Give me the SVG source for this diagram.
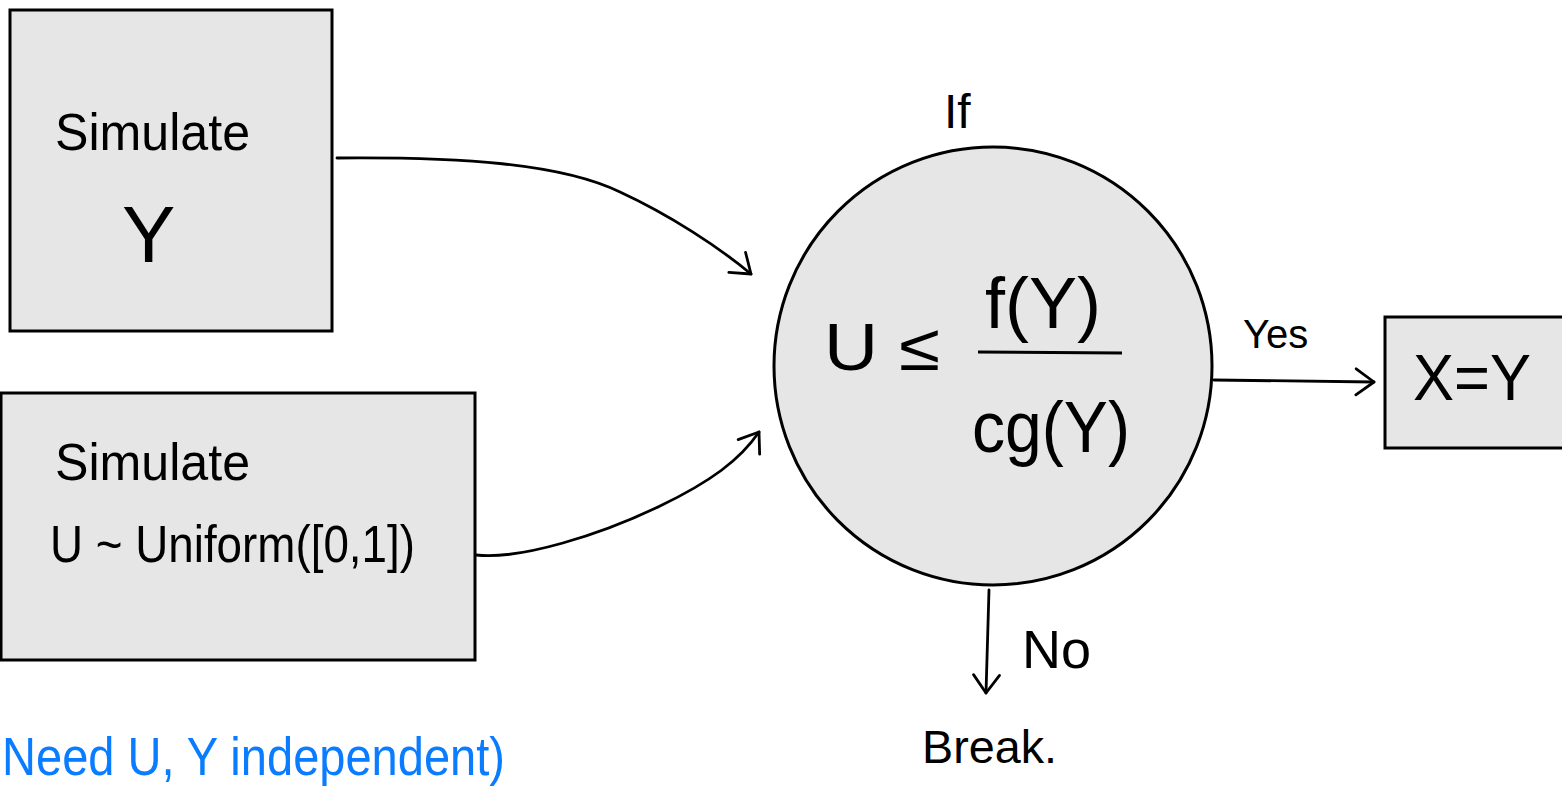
<svg xmlns="http://www.w3.org/2000/svg" width="1562" height="791" viewBox="0 0 1562 791">
<style>
.node{fill:#e6e6e6;stroke:#000;stroke-width:3}
.t{font-family:"Liberation Sans",Arial,sans-serif;fill:#000}
.conn{fill:none;stroke:#000;stroke-width:2.8;stroke-linecap:round}
</style>
<defs>
<marker id="ah" markerWidth="30" markerHeight="30" refX="22" refY="15" orient="auto" markerUnits="userSpaceOnUse">
<path d="M4 2 L22 15 L4 28" fill="none" stroke="#000" stroke-width="2.8" stroke-linecap="round" stroke-linejoin="round"/>
</marker>
</defs>
<rect width="1562" height="791" fill="#fff"/>
<g id="simY">
<rect class="node" x="10" y="10" width="322" height="321"/>
<text class="t" x="55" y="150" font-size="52" textLength="195" lengthAdjust="spacingAndGlyphs">Simulate</text>
<text class="t" x="122" y="262" font-size="80">Y</text>
</g>
<g id="simU">
<rect class="node" x="1" y="393" width="474" height="267"/>
<text class="t" x="55" y="480" font-size="52" textLength="195" lengthAdjust="spacingAndGlyphs">Simulate</text>
<text class="t" x="50" y="562" font-size="52" textLength="365" lengthAdjust="spacingAndGlyphs">U ~ Uniform([0,1])</text>
</g>
<g id="cond">
<circle class="node" cx="993" cy="366" r="219"/>
<text class="t" x="944" y="128" font-size="48">If</text>
<text class="t" x="824" y="370" font-size="66" textLength="116" lengthAdjust="spacingAndGlyphs">U ≤</text>
<line x1="978" y1="352" x2="1122" y2="353" stroke="#000" stroke-width="3"/>
<text class="t" x="985" y="328" font-size="72">f(Y)</text>
<text class="t" x="972" y="452" font-size="72" textLength="158" lengthAdjust="spacingAndGlyphs">cg(Y)</text>
</g>
<g id="result">
<rect class="node" x="1385" y="317" width="190" height="131"/>
<text class="t" x="1413" y="400" font-size="64" textLength="118" lengthAdjust="spacingAndGlyphs">X=Y</text>
</g>
<g id="labels">
<text class="t" x="1243" y="348" font-size="40">Yes</text>
<text class="t" x="1022" y="668" font-size="54">No</text>
<text class="t" x="922" y="763" font-size="46" textLength="135" lengthAdjust="spacingAndGlyphs">Break.</text>
<text class="t" x="2" y="775" font-size="54" style="fill:#0a7cff" textLength="503" lengthAdjust="spacingAndGlyphs">Need U, Y independent)</text>
</g>
<g id="connectors">
<path class="conn" d="M337 158 C460 157 560 163 620 192 C670 215 720 248 751 274" marker-end="url(#ah)"/>
<path class="conn" d="M476 555 C520 560 600 535 660 506 C710 482 740 460 759 432" marker-end="url(#ah)"/>
<path class="conn" d="M1214 380 L1374 382" marker-end="url(#ah)"/>
<path class="conn" d="M989 590 L986 693" marker-end="url(#ah)"/>
</g>
</svg>
